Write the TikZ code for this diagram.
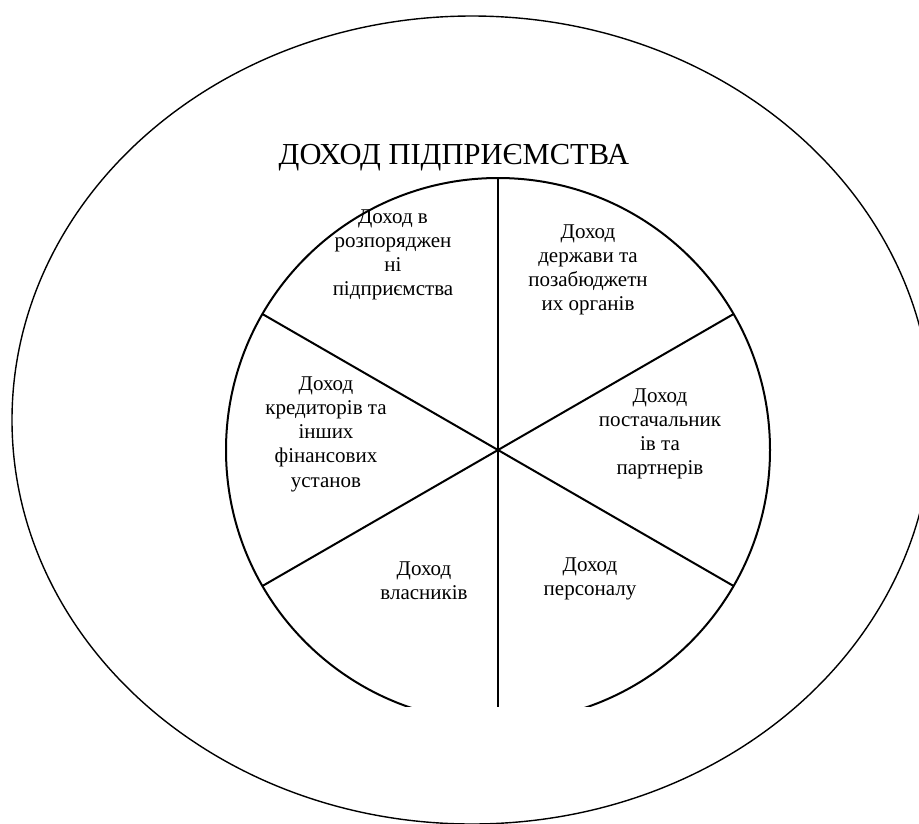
\documentclass[tikz,border=0pt]{standalone}
\usepackage{fontspec}
\setmainfont{Liberation Serif}
\usetikzlibrary{calc}
\begin{document}
\begin{tikzpicture}[x=1pt,y=-1pt,
  ring/.style={line width=1.4pt},
  wheel/.style={line width=2pt},
  sector/.style={align=center,inner sep=0pt,font=\fontsize{21}{24.2}\selectfont},
  headline/.style={inner sep=0pt,font=\fontsize{30.5}{34}\selectfont}]
  \useasboundingbox (0,0) rectangle (919,823);
  \clip (0,0) rectangle (919,823);
  % outer ring
  \draw[ring] (472,420) ellipse [x radius=460, y radius=404];
  % centre of the wheel and the ends of its spokes
  \coordinate (c) at (498,450);
  \coordinate (top) at ($(c)+(0,-272)$);
  \coordinate (bot) at ($(c)+(0,272)$);
  \coordinate (ur) at ($(c)+(235.6,-136)$);
  \coordinate (ul) at ($(c)+(-235.6,-136)$);
  \coordinate (lr) at ($(c)+(235.6,136)$);
  \coordinate (ll) at ($(c)+(-235.6,136)$);
  \begin{scope}
    \clip (0,0) rectangle (919,706);
    \draw[wheel] (c) circle [radius=272];
    \draw[wheel] (top) -- (bot);
    \draw[wheel] (ul) -- (lr);
    \draw[wheel] (ur) -- (ll);
  \end{scope}
  % labels
  \node[headline] (title) at (454,158) {ДОХОД ПІДПРИЄМСТВА};
  \node[sector] (s1) at (393,255) {Доход в\\розпоряджен\\ні\\підприємства};
  \node[sector] (s2) at (588,270) {Доход\\держави та\\позабюджетн\\их органів};
  \node[sector] (s3) at (660,434) {Доход\\постачальник\\ів та\\партнерів};
  \node[sector] (s4) at (326,434) {Доход\\кредиторів та\\інших\\фінансових\\установ};
  \node[sector] (s5) at (424,581) {Доход\\власників};
  \node[sector] (s6) at (590,579) {Доход\\персоналу};
\end{tikzpicture}
\end{document}
